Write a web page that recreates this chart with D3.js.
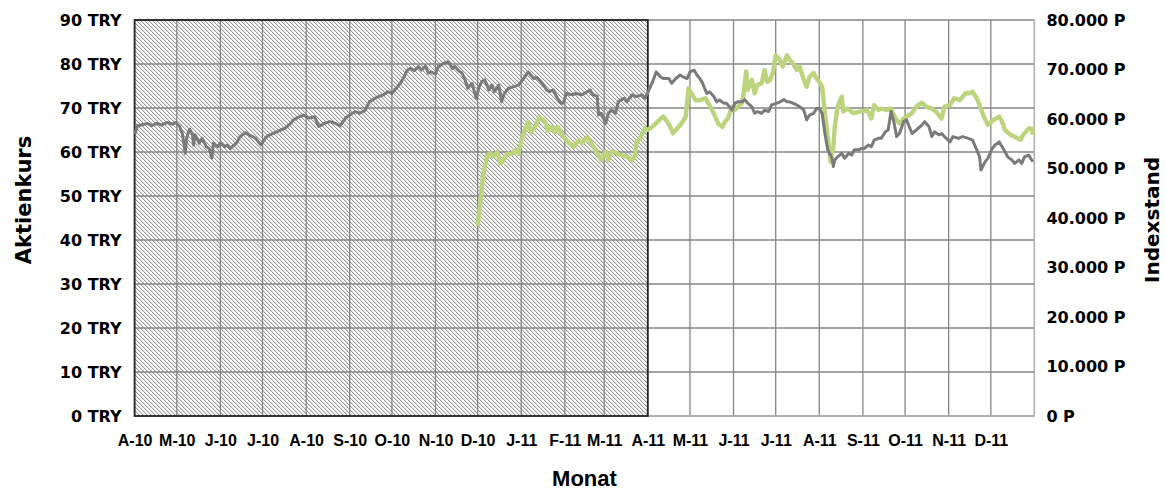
<!DOCTYPE html>
<html lang="de">
<head>
<meta charset="utf-8">
<title>Aktienkurs und Indexstand</title>
<script src="https://cdn.jsdelivr.net/npm/d3@7"></script>
<style>
  body { margin: 0; background: #fff; }
  svg { display: block; }
</style>
</head>
<body>
<script>

// time axis: days are counted from start_date
var start_date = new Date(2010, 3, 1);
var end_date = new Date(2012, 0, 1);
var hatch_end = new Date(2011, 3, 1);

var month_labels = ["A-10", "M-10", "J-10", "J-10", "A-10", "S-10", "O-10", "N-10", "D-10",
    "J-11", "F-11", "M-11", "A-11", "M-11", "J-11", "J-11", "A-11", "S-11", "O-11", "N-11", "D-11"];

var left_ticks = [0, 10, 20, 30, 40, 50, 60, 70, 80, 90];
var right_ticks = [0, 10000, 20000, 30000, 40000, 50000, 60000, 70000, 80000];

// share price in TRY, [day, value]
var stock_series = [
    [0, 64.0], [2, 65.9], [9, 66.5], [12, 66.0], [16, 66.5], [19, 66.1], [23, 66.7], [27, 66.3], [29, 66.7],
    [32, 65.8], [34, 64.2], [36, 59.7], [37, 63.1], [39, 65.2], [41, 64.2], [42, 61.6], [43, 63.9], [46, 62.0],
    [48, 63.1], [51, 61.2], [53, 60.8], [55, 58.6], [56, 62.0], [59, 61.2], [61, 62.0], [64, 61.2], [66, 61.6],
    [68, 60.8], [71, 61.6], [73, 62.3], [75, 63.5], [79, 64.4], [81, 63.9], [84, 63.5], [86, 63.1], [88, 62.3],
    [90, 61.6], [92, 62.7], [94, 63.5], [98, 64.2], [101, 64.6], [104, 65.0], [107, 65.4], [111, 66.5],
    [113, 67.3], [117, 68.0], [120, 68.4], [124, 67.7], [128, 68.0], [131, 65.8], [135, 66.5], [139, 66.9],
    [143, 66.5], [146, 65.9], [150, 67.7], [153, 68.4], [157, 69.2], [160, 68.8], [164, 69.5], [167, 71.4],
    [172, 72.4], [177, 73.0], [180, 73.7], [183, 73.3], [185, 74.1], [189, 75.6], [191, 76.7], [194, 78.6],
    [196, 79.0], [199, 78.5], [202, 79.4], [204, 78.6], [207, 79.5], [209, 77.9], [211, 78.2], [214, 77.7],
    [216, 79.4], [220, 80.2], [223, 80.5], [226, 79.0], [228, 79.4], [230, 78.6], [233, 77.9], [235, 76.4],
    [237, 74.5], [240, 75.6], [243, 72.2], [245, 74.8], [247, 76.0], [249, 76.4], [252, 74.1], [254, 75.2],
    [256, 73.7], [259, 75.2], [261, 71.4], [263, 73.3], [266, 74.5], [269, 74.8], [273, 75.2], [276, 76.4],
    [280, 78.2], [284, 76.7], [286, 77.0], [290, 75.6], [293, 74.1], [295, 73.7], [298, 74.1], [300, 72.6],
    [303, 71.1], [305, 71.1], [307, 73.3], [311, 73.0], [314, 73.3], [318, 73.0], [322, 73.7], [324, 74.1],
    [326, 73.0], [329, 72.7], [330, 68.4], [332, 68.8], [335, 66.5], [337, 68.8], [339, 69.5], [342, 68.8],
    [344, 71.4], [348, 72.2], [350, 71.4], [354, 73.0], [357, 72.6], [361, 73.0], [363, 72.2], [365, 73.5],
    [369, 76.4], [371, 78.2], [374, 77.1], [376, 76.7], [380, 76.7], [382, 75.6], [385, 76.7], [388, 77.5],
    [390, 77.1], [393, 76.7], [395, 78.2], [398, 78.6], [400, 77.5], [402, 76.7], [404, 75.6], [407, 73.3],
    [409, 73.7], [412, 72.6], [414, 71.4], [416, 71.8], [419, 71.1], [421, 71.1], [425, 69.5], [427, 71.1],
    [429, 71.4], [432, 71.4], [434, 71.9], [436, 71.1], [439, 70.3], [441, 68.8], [443, 69.2], [446, 68.8],
    [448, 69.5], [451, 69.2], [453, 70.7], [457, 71.1], [459, 71.4], [462, 71.9], [464, 71.4], [466, 71.4],
    [468, 71.1], [471, 70.7], [473, 70.3], [476, 69.5], [478, 67.3], [480, 68.4], [483, 68.8], [485, 69.9],
    [487, 69.9], [489, 68.8], [491, 64.2], [493, 60.5], [496, 58.6], [497, 56.7], [498, 58.2], [500, 58.9],
    [503, 59.7], [505, 58.6], [508, 59.7], [510, 59.3], [512, 60.5], [515, 60.5], [517, 60.8], [519, 60.8],
    [522, 61.6], [524, 61.2], [526, 62.7], [529, 63.1], [531, 63.1], [534, 64.6], [536, 65.0], [538, 69.2],
    [540, 66.9], [542, 63.5], [544, 64.2], [547, 66.9], [549, 67.3], [553, 64.2], [556, 65.0], [560, 66.1],
    [562, 66.9], [565, 65.8], [567, 63.5], [569, 64.6], [572, 63.9], [574, 64.2], [576, 63.5], [580, 62.3],
    [582, 63.5], [586, 63.1], [589, 63.5], [593, 63.1], [596, 62.7], [599, 60.5], [601, 58.9], [602, 55.9],
    [605, 57.8], [607, 58.6], [610, 60.8], [612, 61.6], [615, 62.3], [617, 61.2], [619, 60.1], [621, 58.9],
    [624, 58.2], [626, 57.4], [629, 58.2], [631, 57.4], [633, 58.9], [636, 59.3], [638, 58.2], [639, 57.8]
];

// index level in points, [day, value]
var index_series = [
    [244, 38400], [246, 43500], [248, 49000], [251, 52700], [253, 53100], [255, 52400], [258, 53300],
    [260, 51000], [262, 51500], [265, 53000], [268, 52900], [271, 53700], [273, 53000], [275, 55700],
    [278, 58000], [280, 59400], [282, 57300], [285, 58500], [288, 60400], [292, 59400], [294, 57600],
    [297, 58400], [299, 57400], [301, 58400], [305, 56400], [308, 55400], [312, 54400], [316, 55700],
    [318, 55100], [322, 56400], [324, 55400], [327, 54100], [330, 52700], [332, 51700], [335, 53400],
    [337, 51700], [339, 53400], [343, 53100], [346, 52700], [350, 52400], [354, 51700], [356, 52700],
    [357, 55400], [359, 55800], [363, 58100], [365, 57800], [369, 58600], [372, 59500], [376, 60500],
    [378, 59800], [381, 58400], [383, 57100], [386, 58100], [389, 59100], [392, 60500], [394, 66200],
    [396, 65200], [399, 63800], [402, 63800], [406, 64200], [408, 63200], [410, 62200], [413, 60500],
    [415, 59100], [418, 58400], [420, 59500], [422, 60100], [425, 62500], [427, 61800], [429, 62500],
    [432, 63200], [433, 64800], [435, 69600], [436, 65900], [439, 67900], [441, 65200], [443, 66900],
    [446, 67200], [448, 69900], [450, 67500], [452, 67900], [454, 69300], [456, 72900], [459, 71900],
    [461, 70600], [464, 72900], [466, 71900], [468, 71300], [471, 69900], [473, 70600], [476, 67900],
    [478, 66500], [480, 68500], [483, 69300], [485, 68200], [487, 67500], [489, 66500], [491, 61200],
    [493, 56400], [495, 51400], [497, 54400], [498, 58400], [500, 62500], [503, 64500], [504, 61500],
    [507, 62100], [511, 61200], [516, 61500], [521, 61800], [524, 60100], [526, 62800], [529, 61800],
    [531, 62100], [535, 61800], [538, 62100], [540, 60800], [542, 59800], [544, 59100], [547, 60100],
    [549, 60500], [553, 61200], [556, 62500], [560, 63300], [563, 62500], [567, 62100], [570, 61500],
    [574, 60100], [576, 62500], [580, 62800], [583, 64200], [587, 63800], [591, 65200], [594, 65200],
    [596, 65500], [599, 64200], [601, 62800], [604, 60500], [607, 58800], [611, 59800], [615, 60500],
    [617, 59500], [619, 57800], [623, 56800], [626, 56400], [630, 55800], [632, 56800], [636, 58100],
    [638, 58100], [639, 56800]
];

var width = 1165;
var height = 491;
var plot_left = 134.6, plot_right = 1034.4, plot_top = 20, plot_bottom = 416;

var svg = d3.select("body")
    .append("svg")
    .attr("width", width)
    .attr("height", height);

var x = d3.scaleTime().domain([start_date, end_date]).range([plot_left, plot_right]);
var y_left = d3.scaleLinear().domain([0, 90]).range([plot_bottom, plot_top]);
var y_right = d3.scaleLinear().domain([0, 80000]).range([plot_bottom, plot_top]);

function to_date(day) {
    return d3.timeDay.offset(start_date, day);
}

var month_ticks = d3.timeMonth.range(start_date, end_date);

// hatch pattern like excel's downward diagonal
var pattern = svg.append("defs")
    .append("pattern")
    .attr("id", "hatch")
    .attr("patternUnits", "userSpaceOnUse")
    .attr("width", 4)
    .attr("height", 4);
pattern.append("rect").attr("width", 4).attr("height", 4).attr("fill", "#fff");
for (var r = 0; r < 4; r++) {
    for (var c = 0; c < 2; c++) {
        pattern.append("rect")
            .attr("x", (r + c) % 4)
            .attr("y", r)
            .attr("width", 1)
            .attr("height", 1)
            .attr("fill", c == 0 ? "#999999" : "#dedede");
    }
}

// hatched block for the first year
svg.append("rect")
    .attr("x", x(start_date))
    .attr("y", plot_top)
    .attr("width", x(hatch_end) - x(start_date))
    .attr("height", plot_bottom - plot_top)
    .attr("fill", "url(#hatch)");

// grid
var grid = svg.append("g").attr("stroke", "#868686").attr("stroke-width", 1.3);
grid.selectAll("line.h")
    .data(left_ticks)
    .enter()
    .append("line")
    .attr("x1", plot_left)
    .attr("x2", plot_right)
    .attr("y1", function(d) { return y_left(d); })
    .attr("y2", function(d) { return y_left(d); });
grid.selectAll("line.v")
    .data(month_ticks.concat([end_date]))
    .enter()
    .append("line")
    .attr("x1", function(d) { return x(d); })
    .attr("x2", function(d) { return x(d); })
    .attr("y1", plot_top)
    .attr("y2", plot_bottom);

// light frame on the right and bottom
svg.append("path")
    .attr("d", "M" + plot_right + "," + plot_top + "V" + plot_bottom + "H" + plot_left)
    .attr("fill", "none")
    .attr("stroke", "#b4b4b4")
    .attr("stroke-width", 1.3);

// dark border round the hatched block
svg.append("rect")
    .attr("x", x(start_date))
    .attr("y", plot_top)
    .attr("width", x(hatch_end) - x(start_date))
    .attr("height", plot_bottom - plot_top)
    .attr("fill", "none")
    .attr("stroke", "#262626")
    .attr("stroke-width", 1.8);

// lines
var stock_line = d3.line()
    .x(function(d) { return x(to_date(d[0])); })
    .y(function(d) { return y_left(d[1]); });
var index_line = d3.line()
    .x(function(d) { return x(to_date(d[0])); })
    .y(function(d) { return y_right(d[1]); });

svg.append("path")
    .datum(index_series)
    .attr("d", index_line)
    .attr("fill", "none")
    .attr("stroke", "#bcd47d")
    .attr("stroke-width", 4.4)
    .attr("stroke-linejoin", "round");

svg.append("path")
    .datum(stock_series)
    .attr("d", stock_line)
    .attr("fill", "none")
    .attr("stroke", "#7a7a7a")
    .attr("stroke-width", 3)
    .attr("stroke-linejoin", "round");

// axes
var de = d3.formatLocale({decimal: ",", thousands: ".", grouping: [3], currency: ["", " €"]});
var fmt_points = de.format(",.0f");

var left_axis = svg.append("g")
    .attr("transform", "translate(" + plot_left + ",0)")
    .call(d3.axisLeft(y_left).tickValues(left_ticks).tickSize(0).tickPadding(13)
        .tickFormat(function(d) { return d + " TRY"; }));

var right_axis = svg.append("g")
    .attr("transform", "translate(" + plot_right + ",0)")
    .call(d3.axisRight(y_right).tickValues(right_ticks).tickSize(0).tickPadding(12)
        .tickFormat(function(d) { return fmt_points(d) + " P"; }));

var bottom_axis = svg.append("g")
    .attr("transform", "translate(0," + plot_bottom + ")")
    .call(d3.axisBottom(x).tickValues(month_ticks).tickSize(0).tickPadding(19)
        .tickFormat(function(d, i) { return month_labels[i]; }));

[left_axis, right_axis, bottom_axis].forEach(function(a) {
    a.select(".domain").remove();
    a.selectAll("text").attr("fill", "#000");
});
left_axis.selectAll("text")
    .style("font", "bold 16px 'DejaVu Sans', Verdana, sans-serif");
right_axis.selectAll("text")
    .style("font", "bold 16px 'DejaVu Sans', Verdana, sans-serif");
bottom_axis.selectAll("text")
    .style("font", "bold 16px 'Liberation Sans', Arial, sans-serif");

// axis titles
svg.append("text")
    .attr("transform", "translate(31,200) rotate(-90)")
    .attr("text-anchor", "middle")
    .style("font", "bold 21px 'DejaVu Sans', Verdana, sans-serif")
    .text("Aktienkurs");

svg.append("text")
    .attr("transform", "translate(1159,220) rotate(-90)")
    .attr("text-anchor", "middle")
    .style("font", "bold 20px 'DejaVu Sans', Verdana, sans-serif")
    .text("Indexstand");

svg.append("text")
    .attr("x", (plot_left + plot_right) / 2)
    .attr("y", 486)
    .attr("text-anchor", "middle")
    .style("font", "bold 22px 'Liberation Sans', Arial, sans-serif")
    .text("Monat");

</script>
</body>
</html>
